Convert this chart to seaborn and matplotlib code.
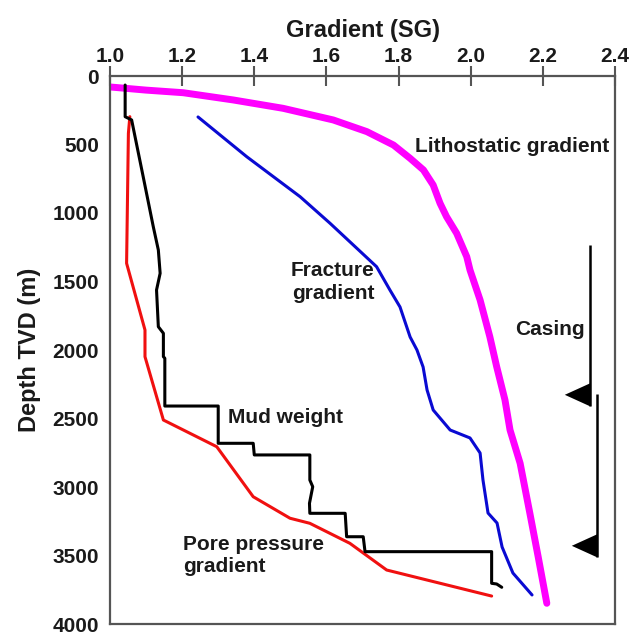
import numpy as np
import pandas as pd
import matplotlib
matplotlib.use("Agg")
import matplotlib.pyplot as plt
from matplotlib.path import Path
import seaborn as sns

# ---------------- data ----------------
litho_sg = [1.0, 1.10, 1.203, 1.342, 1.480, 1.619, 1.712, 1.786, 1.832, 1.869,
            1.896, 1.915, 1.933, 1.961, 1.989, 1.998, 2.026, 2.053, 2.072,
            2.095, 2.109, 2.137, 2.164, 2.187, 2.211]
litho_depth = [80, 103, 122, 175, 236, 321, 406, 504, 601, 686,
               796, 929, 1027, 1148, 1319, 1416, 1635, 1903, 2122,
               2365, 2584, 2827, 3192, 3509, 3849]

frac_sg = [1.244, 1.379, 1.527, 1.610, 1.739, 1.776, 1.804, 1.832, 1.851, 1.868,
           1.879, 1.896, 1.943, 1.998, 2.026, 2.034, 2.048, 2.073, 2.087, 2.117, 2.170]
frac_depth = [299, 589, 881, 1075, 1392, 1562, 1686, 1905, 2000, 2124,
              2292, 2438, 2584, 2642, 2752, 2949, 3190, 3263, 3438, 3628, 3788]

pore_sg = [1.055, 1.051, 1.046, 1.097, 1.097, 1.148, 1.296, 1.397, 1.499,
           1.554, 1.665, 1.767, 2.058]
pore_depth = [297, 418, 1367, 1854, 2049, 2511, 2706, 3071, 3228,
              3265, 3411, 3606, 3796]

mud_sg = [1.042, 1.042, 1.060, 1.092, 1.120, 1.134, 1.139, 1.129, 1.134, 1.148,
          1.148, 1.152, 1.152, 1.300, 1.300, 1.397, 1.400, 1.554, 1.554, 1.562,
          1.553, 1.554, 1.652, 1.656, 1.702, 1.707, 2.058, 2.058, 2.072, 2.086]
mud_depth = [66, 297, 321, 735, 1100, 1270, 1440, 1562, 1830, 1878,
             2049, 2060, 2409, 2409, 2681, 2681, 2766, 2766, 2949, 2998,
             3119, 3192, 3192, 3363, 3363, 3472, 3472, 3703, 3708, 3732]

casing_sg = [2.331, 2.349]
casing_top = [1234, 2321]
casing_shoe = [2409, 3511]

x_ticks = [1.0, 1.2, 1.4, 1.6, 1.8, 2.0, 2.2, 2.4]
x_ticklabels = ["1.0", "1.2", "1.4", "1.6", "1.8", "2.0", "2.2", "2.4"]
y_ticks = [0, 500, 1000, 1500, 2000, 2500, 3000, 3500, 4000]
y_ticklabels = ["0", "500", "1000", "1500", "2000", "2500", "3000", "3500", "4000"]

# ---------------- style ----------------
sns.set_style("white")
plt.rcParams["font.family"] = ["Liberation Sans", "DejaVu Sans"]
plt.rcParams["font.weight"] = "bold"
plt.rcParams["axes.labelweight"] = "bold"

TXT = "#1a1a1a"
AX = "#555555"

fig = plt.figure(figsize=(6.3, 6.39), dpi=100)
ax = fig.add_axes([110 / 630, 1 - 624 / 639, 505 / 630, 548 / 639])

def draw(sg, depth, color, lw):
    df = pd.DataFrame({"sg": sg, "depth": depth})
    sns.lineplot(data=df, x="sg", y="depth", sort=False, estimator=None,
                 color=color, lw=lw, ax=ax, legend=False,
                 solid_capstyle="round", solid_joinstyle="round")

draw(litho_sg, litho_depth, "#FF00FF", 5.0)
draw(frac_sg, frac_depth, "#0a0ad2", 2.2)
draw(pore_sg, pore_depth, "#f01010", 2.2)
draw(mud_sg, mud_depth, "#000000", 2.2)

# casing strings with shoe triangles
shoe_marker = Path([(0, 0), (0, 1), (-1.1, 0.5), (0, 0)],
                   [Path.MOVETO, Path.LINETO, Path.LINETO, Path.CLOSEPOLY])
for sgv, top, shoe in zip(casing_sg, casing_top, casing_shoe):
    ax.plot([sgv, sgv], [top, shoe], color="black", lw=1.8, solid_capstyle="butt")
    ax.plot([sgv], [shoe], marker=shoe_marker, markersize=37, color="black",
            markeredgewidth=0, linestyle="none", clip_on=False)

# ---------------- axes ----------------
ax.set_xlim(1.0, 2.4)
ax.set_ylim(4000, 0)
ax.xaxis.tick_top()
ax.xaxis.set_label_position("top")
ax.set_xticks(x_ticks)
ax.set_xticklabels(x_ticklabels)
ax.set_yticks(y_ticks)
ax.set_yticklabels(y_ticklabels)
ax.tick_params(axis="x", direction="inout", length=15, width=1.5, color=AX,
               labelsize=15, labelcolor=TXT, pad=0)
ax.tick_params(axis="y", direction="inout", length=15, width=1.5, color=AX,
               labelsize=15, labelcolor=TXT, pad=0.5)
for lab in ax.get_xticklabels() + ax.get_yticklabels():
    lab.set_fontweight("bold")
for s in ax.spines.values():
    s.set_color(AX)
    s.set_linewidth(1.6)

ax.set_xlabel("Gradient (SG)", fontsize=17, fontweight="bold", color=TXT, labelpad=7)
ax.set_ylabel("Depth TVD (m)", fontsize=17, fontweight="bold", color=TXT, labelpad=8)

# ---------------- annotations ----------------
tk = dict(fontsize=15, fontweight="bold", color=TXT)
ax.text(1.846, 518, "Lithostatic gradient", ha="left", va="center", **tk)
ax.text(1.618, 1504, "Fracture\ngradient", ha="center", va="center", linespacing=1.25, **tk)
ax.text(2.123, 1854, "Casing", ha="left", va="center", **tk)
ax.text(1.327, 2496, "Mud weight", ha="left", va="center", **tk)
ax.text(1.202, 3500, "Pore pressure\ngradient", ha="left", va="center", linespacing=1.25, **tk)

fig.savefig("out.png", dpi=100)
